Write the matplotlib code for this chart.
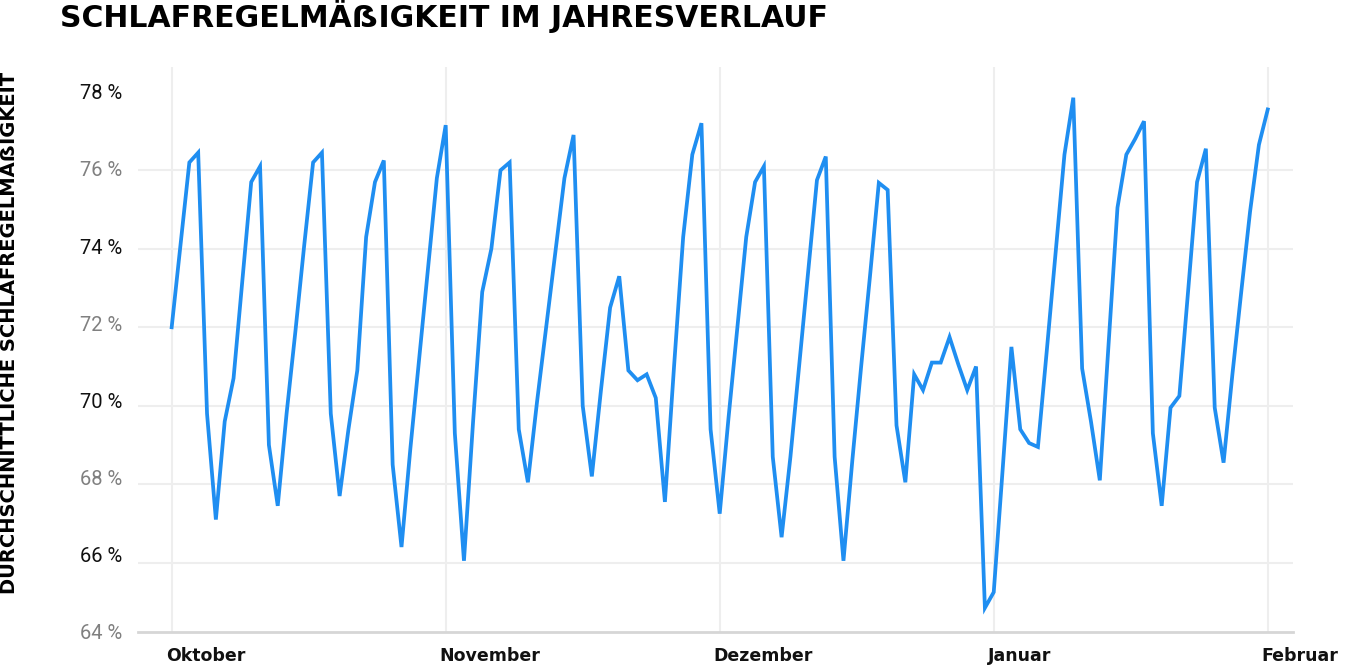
import numpy as np
import pandas as pd
import matplotlib
matplotlib.use("Agg")
from matplotlib import pyplot as plt
from matplotlib.transforms import ScaledTranslation

# daily values, 1 Oct .. 1 Feb
oct_vals = [72.0, 74.1, 76.2, 76.45, 69.8, 67.1, 69.6, 70.7, 73.2, 75.7,
            76.1, 69.0, 67.45, 69.8, 71.9, 74.1, 76.2, 76.45, 69.8, 67.7,
            69.4, 70.9, 74.3, 75.7, 76.25, 68.5, 66.4, 68.9, 71.2, 73.5,
            75.8]
nov_vals = [77.15, 69.3, 66.05, 69.6, 72.9, 74.0, 76.0, 76.2, 69.4, 68.05,
            70.1, 72.0, 73.9, 75.8, 76.9, 70.0, 68.2, 70.4, 72.5, 73.3,
            70.9, 70.65, 70.8, 70.2, 67.55, 71.0, 74.3, 76.4, 77.2, 69.4]
dec_vals = [67.25, 69.7, 72.0, 74.3, 75.7, 76.1, 68.7, 66.65, 68.7, 71.05,
            73.4, 75.75, 76.35, 68.7, 66.05, 68.6, 71.0, 73.3, 75.68, 75.5,
            69.5, 68.05, 70.8, 70.4, 71.1, 71.1, 71.75, 71.05, 70.4, 71.0,
            64.85]
jan_vals = [65.25, 68.35, 71.5, 69.4, 69.05, 68.95, 71.4, 73.9, 76.4, 77.85,
            70.95, 69.6, 68.1, 71.6, 75.05, 76.4, 76.8, 77.25, 69.3, 67.45,
            69.95, 70.25, 72.95, 75.7, 76.55, 69.95, 68.55, 70.8, 72.9, 74.95,
            76.65]
feb_vals = [77.55]

values = oct_vals + nov_vals + dec_vals + jan_vals + feb_vals
dates = pd.date_range("2020-10-01", "2021-02-01", freq="D")

month_labels = ["Oktober", "November", "Dezember", "Januar", "Februar"]
grid_values = [66, 68, 70, 72, 74, 76, 78]
tick_labels = ["78 %", "76 %", "74 %", "72 %", "70 %", "68 %", "66 %", "64 %"]

title = "SCHLAFREGELMÄẞIGKEIT IM JAHRESVERLAUF"
ylabel = "DURCHSCHNITTLICHE SCHLAFREGELMÄẞIGKEIT"

# every month gets the same width on the x axis
month_idx = (dates.year - dates[0].year) * 12 + dates.month - dates[0].month
x = np.asarray(month_idx + (dates.day - 1) / dates.days_in_month, dtype=float)

fig = plt.figure(figsize=(13.46, 6.68), dpi=100)
ax = fig.add_axes([0.1025, 0.0543, 0.8581, 0.8457])

ax.plot(x, values, color="#1f8ef1", linewidth=2.7, solid_joinstyle="miter", zorder=3)

ax.set_xlim(-0.123, x[-1] + 0.092)
y_bottom = 64.242
ax.set_ylim(y_bottom, 78.637)

ax.set_xticks(np.arange(len(month_labels)))
ax.set_xticklabels(month_labels, fontsize=12.5, fontweight="bold",
                   family="DejaVu Sans", color="#111111", ha="left")

# y labels evenly spaced from 78 down to the axis line
ax.set_yticks(np.linspace(78, y_bottom, 8))
ax.set_yticklabels(tick_labels, fontsize=14.5, family="Roboto")
for i, lab in enumerate(ax.get_yticklabels()):
    lab.set_color("#111111" if i % 2 == 0 else "#808080")
ax.set_yticks(grid_values, minor=True)

ax.tick_params(axis="both", which="both", length=0)
ax.tick_params(axis="x", pad=11)
ax.tick_params(axis="y", pad=11)

offset = ScaledTranslation(-6 / 100, 0, fig.dpi_scale_trans)
for lab in ax.get_xticklabels():
    lab.set_transform(lab.get_transform() + offset)

ax.grid(True, axis="x", which="major", color="#eeeeee", linewidth=1.5, zorder=0)
ax.grid(True, axis="y", which="minor", color="#eeeeee", linewidth=1.5, zorder=0)

for s in ["top", "right", "left"]:
    ax.spines[s].set_visible(False)
ax.spines["bottom"].set_color("#d6d6d6")
ax.spines["bottom"].set_linewidth(2)

fig.text(60 / 1346, 1 - 26.7 / 668, title, fontsize=21.5, fontweight="bold",
         family="DejaVu Sans", color="#000000", ha="left", va="baseline")
fig.text(10 / 1346, 1 - 333 / 668, ylabel, fontsize=14, fontweight="bold",
         family="DejaVu Sans", color="#000000", rotation=90,
         ha="center", va="center")

fig.savefig("out.png", dpi=100)
